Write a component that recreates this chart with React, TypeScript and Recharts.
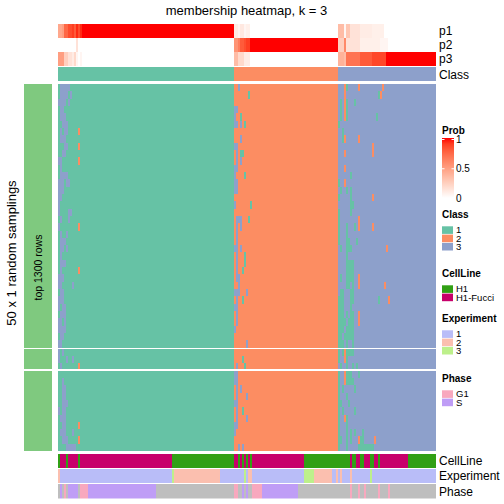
import React from 'react';
import { BarChart, Bar, XAxis, YAxis, Cell } from 'recharts';

// ---- column annotations, left to right, as [value, number of columns] ----
const classRuns: [number, number][] = [[1, 88], [2, 52], [3, 49]];

const p1Runs: [number, number][] = [
  [0.45, 2], [0.5, 1], [0.75, 2], [0.85, 2], [0.9, 1], [0.8, 1], [0.95, 1], [0.85, 1], [0.95, 1], [1, 76],
  [0.1, 2], [0.05, 1], [0.12, 2], [0.05, 1], [0.08, 2], [0, 44],
  [0.35, 3], [0.05, 1], [0.3, 2], [0.15, 5], [0.1, 6], [0.08, 6], [0, 26],
];
const p2Runs: [number, number][] = [
  [0, 9], [0.15, 1], [0, 78],
  [0.55, 2], [0.65, 1], [0.8, 2], [0.85, 1], [0.9, 2], [1, 44],
  [0.25, 3], [0.6, 1], [0.15, 7], [0.08, 10], [0.05, 4], [0, 24],
];
const p3Runs: [number, number][] = [
  [0.5, 3], [0.25, 2], [0.15, 2], [0.1, 1], [0.2, 1], [0.05, 1], [0, 1], [0.05, 1], [0, 76],
  [0.35, 2], [0.2, 3], [0.1, 3], [0, 44],
  [0.4, 3], [0.35, 1], [0.7, 7], [0.8, 6], [0.87, 7], [1, 25],
];

const cellLineRuns: [string, number][] = [
  ['H1', 1], ['H1-Fucci', 3], ['H1', 1], ['H1-Fucci', 5], ['H1', 1], ['H1-Fucci', 46], ['H1', 31],
  ['H1-Fucci', 2], ['H1', 1], ['H1-Fucci', 1], ['H1', 1], ['H1-Fucci', 1], ['H1', 1], ['H1-Fucci', 1], ['H1', 1], ['H1-Fucci', 26],
  ['H1', 23], ['H1-Fucci', 1], ['H1', 2], ['H1-Fucci', 2], ['H1', 2], ['H1-Fucci', 3], ['H1', 2], ['H1-Fucci', 2], ['H1', 1],
  ['H1-Fucci', 14], ['H1', 14],
];
const experimentRuns: [string, number][] = [
  ['2', 1], ['1', 56], ['3', 1], ['2', 23], ['1', 12], ['3', 1], ['1', 1], ['2', 2], ['1', 26], ['3', 5], ['2', 9],
  ['1', 2], ['2', 1], ['1', 1], ['2', 1], ['1', 4], ['2', 1], ['1', 9], ['3', 1], ['1', 32],
];
const phaseRuns: [string, number][] = [
  ['NA', 1], ['S', 1], ['NA', 1], ['G1', 1], ['NA', 1], ['S', 5], ['NA', 1], ['G1', 4], ['S', 34], ['NA', 39],
  ['G1', 2], ['NA', 2], ['S', 1], ['NA', 1], ['S', 1], ['NA', 2], ['G1', 5], ['S', 18], ['NA', 26],
  ['G1', 1], ['NA', 3], ['G1', 1], ['NA', 2], ['G1', 1], ['NA', 6], ['G1', 1], ['NA', 4], ['G1', 1], ['NA', 23],
];

// ---- 50 samplings (rows, top to bottom). Only the uncertain left edge of each class
// block is listed; '.' (or nothing) means the sampling agrees with the column class ----
const block1Start = 0;   // columns 0..11
const block2Start = 88;  // columns 88..97
const block3Start = 140; // columns 140..167
const block1 = [
  '.33333', '.3333.3', '3333.3', '.33', '.333', '..333', '.3.33.....2', '.333', '...33.....2', '..33',
  '33........2', '.3', '.3333', '333.33', '333', '33', '3', '3....33', '.3...3', '3.........2',
  '.3..3', '.333', '.33.3', '.3', '.333', '.3........2', '333', '33.....3', '.33', '333',
  '3.33', '.333', '33.3', '3333', '.33', '33',
  '3.3', '3...3..3', '.3........2',
  '', '..3', '..33', '..33', '..333', '3.33', '.333', '..33......2', '.333...3', '..333.....2', '....33333',
];
const block2 = [
  '..3', '.......1', '', '33', '3..1', '33.3.1', '', '...3', '33', '.3.11',
  '.3.3', '33', '3....1', '33', '33', '', '3.......1', '', '.333...1', '.3.3',
  '.3', '.3', '33.3', '.3...1', '.3...1', '.3..1', '.33', '..3', '333...3', '.3..1',
  '33', '.3', '.3', '3', '', '......3',
  '', '....1', '.3...1',
  '33', '33', '.3.3', '.3....3', '33', '.3..1', '.3....3', '33', '3', '', '..3.3',
];
const block3 = [
  '...21.....2...........2', '...2................12', '.1.21...1', '.1.21', '.1.21..............1',
  '1', '..1', '..12......2', '.................2', '...2.............2',
  '', '...2', '......1', '1..2', '.1..1.1',
  '1.....1..........2', '......11', '1.....1', '1.........2', '1...1...1.2......2',
  '1...1', '1...11...1', '.1..111.................2', '....1', '....1111',
  '....1111', '.1..1111..2', '....11.1..2............2', '.11...11', '111...11............1....2',
  '111...1', '111.1.11..2', '1111.111..2', '111.1111', '11.11111', '111.1..1',
  '1.121111', '1..21', '.1..1..1.1',
  '1..2111...1', '1..21111', '1.1.....1', '1...1', '11...1', '1.1.....1', '1..21', '1...1',
  '1...1.1.1...1', '11..1.1...211.....2', '1...1.....11111111',
];
const sliceRows = [36, 3, 11];

const CLASS_COLORS: Record<string, string> = { '1': '#66C2A5', '2': '#FC8D62', '3': '#8DA0CB' };
const CELLLINE_COLORS: Record<string, string> = { 'H1': '#31A015', 'H1-Fucci': '#C7006B' };
const EXPERIMENT_COLORS: Record<string, string> = { '1': '#B9BDF8', '2': '#FBBFAF', '3': '#BDF08B' };
const PHASE_COLORS: Record<string, string> = { 'G1': '#F8A8BE', 'S': '#BF9DF6', 'NA': '#BEBEBE' };
const ROW_ANNO = '#7FC97F';
const FONT = '"Liberation Sans", Arial, Helvetica, sans-serif';

const expand = <T,>(runs: [T, number][]): T[] => runs.flatMap(([v, n]) => Array(n).fill(v));

const colClass = expand(classRuns);
const p1 = expand(p1Runs);
const p2 = expand(p2Runs);
const p3 = expand(p3Runs);
const cellLine = expand(cellLineRuns);
const experiment = expand(experimentRuns);
const phase = expand(phaseRuns);
const cols = colClass.map((_, i) => i);

// white -> red in LAB space (like colorRamp2)
function probColor(p: number) {
  const L = 100 - 46.76 * p, a = 80.09 * p, b = 67.2 * p;
  let y = (L + 16) / 116;
  let x = a / 500 + y;
  let z = y - b / 200;
  const f = (t: number) => (t ** 3 > 0.008856 ? t ** 3 : (t - 16 / 116) / 7.787);
  x = 0.95047 * f(x); y = f(y); z = 1.08883 * f(z);
  const lin = [
    x * 3.2406 + y * -1.5372 + z * -0.4986,
    x * -0.9689 + y * 1.8758 + z * 0.0415,
    x * 0.0557 + y * -0.204 + z * 1.057,
  ];
  const g = lin.map((c) => {
    const v = c > 0.0031308 ? 1.055 * c ** (1 / 2.4) - 0.055 : 12.92 * c;
    return Math.round(Math.min(1, Math.max(0, v)) * 255);
  });
  return `rgb(${g[0]},${g[1]},${g[2]})`;
}

function memberClass(r: number, c: number) {
  let ch: string | undefined;
  if (c >= block1Start && c < block1Start + 12) ch = block1[r][c - block1Start];
  else if (c >= block2Start && c < block2Start + 10) ch = block2[r][c - block2Start];
  else if (c >= block3Start && c < block3Start + 28) ch = block3[r][c - block3Start];
  return ch && ch !== '.' ? ch : String(colClass[c]);
}

// ---- layout (top to bottom), heights in pixels ----
type Track = { key: string; h: number; color?: (c: number) => string; label?: string };
const W = 504, H = 504, TOP = 24, LEFT = 58, RIGHT = 436;
const ROW_H = [7.325, 6.767, 7.291];

const rowTracks = (slice: number, first: number): Track[] =>
  Array.from({ length: sliceRows[slice] }, (_, k) => ({
    key: `r${first + k}`,
    h: ROW_H[slice],
    color: (c: number) => CLASS_COLORS[memberClass(first + k, c)],
  }));

const topDown: Track[] = [
  { key: 'p1', h: 13.5, color: (c) => probColor(p1[c]), label: 'p1' },
  { key: 'g1', h: 0.6 },
  { key: 'p2', h: 13.6, color: (c) => probColor(p2[c]), label: 'p2' },
  { key: 'g2', h: 0.6 },
  { key: 'p3', h: 13.7, color: (c) => probColor(p3[c]), label: 'p3' },
  { key: 'g3', h: 1.3 },
  { key: 'cls', h: 14, color: (c) => CLASS_COLORS[String(colClass[c])], label: 'Class' },
  { key: 'g4', h: 2.7 },
  ...rowTracks(0, 0),
  { key: 'g5', h: 1.4 },
  ...rowTracks(1, sliceRows[0]),
  { key: 'g6', h: 1.4 },
  ...rowTracks(2, sliceRows[0] + sliceRows[1]),
  { key: 'g7', h: 2.7 },
  { key: 'cellLine', h: 14.3, color: (c) => CELLLINE_COLORS[cellLine[c]], label: 'CellLine' },
  { key: 'g8', h: 1.0 },
  { key: 'experiment', h: 14.3, color: (c) => EXPERIMENT_COLORS[experiment[c]], label: 'Experiment' },
  { key: 'g9', h: 1.1 },
  { key: 'phase', h: 14.1, color: (c) => PHASE_COLORS[phase[c]], label: 'Phase' },
];
const TOTAL = topDown.reduce((s, t) => s + t.h, 0);
const stack = [...topDown].reverse();

const trackTop: Record<string, number> = {};
topDown.reduce((y, t) => { trackTop[t.key] = y; return y + t.h; }, TOP);

const table = cols.map((c) => {
  const d: Record<string, number> = { col: c };
  topDown.forEach((t) => { d[t.key] = t.h; });
  return d;
});

// row annotation (left green bar), one category
const sliceH = sliceRows.map((n, i) => n * ROW_H[i]);
const aboveBody = trackTop['r0'] - TOP;
const belowBody = TOTAL - (trackTop['g7'] - TOP);
const rowAnnoStack: Track[] = [
  { key: 'below', h: belowBody },
  { key: 's3', h: sliceH[2], color: () => ROW_ANNO },
  { key: 'x2', h: 1.4 },
  { key: 's2', h: sliceH[1], color: () => ROW_ANNO },
  { key: 'x1', h: 1.4 },
  { key: 's1', h: sliceH[0], color: () => ROW_ANNO },
  { key: 'above', h: aboveBody },
];
const rowAnnoTable = [Object.fromEntries([['k', 0], ...rowAnnoStack.map((t) => [t.key, t.h])])];

const legends = [
  { title: 'Class', y: 214.3, items: ['1', '2', '3'].map((k) => [k, CLASS_COLORS[k]]) },
  { title: 'CellLine', y: 273.3, items: ['H1', 'H1-Fucci'].map((k) => [k, CELLLINE_COLORS[k]]) },
  { title: 'Experiment', y: 318.3, items: ['1', '2', '3'].map((k) => [k, EXPERIMENT_COLORS[k]]) },
  { title: 'Phase', y: 378.3, items: ['G1', 'S'].map((k) => [k, PHASE_COLORS[k]]) },
];
const probTicks = [1, 0.5, 0];

export default function App() {
  const gradTop = 139.5, gradBottom = 198;
  const probY = (v: number) => gradBottom - (gradBottom - gradTop) * v;
  return (
    <div style={{ position: 'absolute', left: 0, top: 0, width: W, height: H, background: '#fff', overflow: 'hidden' }}>
      <div style={{ position: 'absolute', left: 0, top: 0, shapeRendering: 'crispEdges' }}>
        <BarChart
          width={W}
          height={H}
          data={table}
          margin={{ top: TOP, bottom: H - TOP - TOTAL, left: LEFT, right: W - RIGHT }}
          barCategoryGap={0}
          barGap={0}
        >
          <XAxis dataKey="col" hide />
          <YAxis hide domain={[0, TOTAL]} allowDataOverflow />
          {stack.map((t) => (
            <Bar key={t.key} dataKey={t.key} stackId="m" isAnimationActive={false} fill="none">
              {t.color && cols.map((c) => <Cell key={c} fill={t.color!(c)} />)}
            </Bar>
          ))}
        </BarChart>
      </div>
      <div style={{ position: 'absolute', left: 0, top: 0, shapeRendering: 'crispEdges' }}>
        <BarChart
          width={W}
          height={H}
          data={rowAnnoTable}
          margin={{ top: TOP, bottom: H - TOP - TOTAL, left: 24, right: W - 52 }}
          barCategoryGap={0}
        >
          <XAxis dataKey="k" hide />
          <YAxis hide domain={[0, TOTAL]} allowDataOverflow />
          {rowAnnoStack.map((t) => (
            <Bar key={t.key} dataKey={t.key} stackId="a" isAnimationActive={false} fill={t.color ? ROW_ANNO : 'none'} />
          ))}
        </BarChart>
      </div>
      <svg width={W} height={H} style={{ position: 'absolute', left: 0, top: 0 }} fontFamily={FONT}>
        <text x={246.5} y={15} fontSize={13} textAnchor="middle">membership heatmap, k = 3</text>
        {topDown.filter((t) => t.label).map((t) => (
          <text key={t.key} x={439} y={trackTop[t.key] + t.h / 2 + 4.3} fontSize={12}>{t.label}</text>
        ))}
        <text transform="translate(15.5,253) rotate(-90)" fontSize={13} textAnchor="middle">50 x 1 random samplings</text>
        <text transform={`translate(42,${(trackTop['r0'] + trackTop['g7']) / 2}) rotate(-90)`} fontSize={10.5} textAnchor="middle">top 1300 rows</text>

        <defs>
          <linearGradient id="probGrad" x1="0" y1="0" x2="0" y2="1">
            {Array.from({ length: 11 }, (_, i) => (
              <stop key={i} offset={i / 10} stopColor={probColor(1 - i / 10)} />
            ))}
          </linearGradient>
        </defs>
        <text x={442} y={133.5} fontSize={10} fontWeight="bold">Prob</text>
        <rect x={442} y={gradTop - 1.5} width={12} height={gradBottom - gradTop + 1.5} fill="url(#probGrad)" />
        {probTicks.map((v) => (
          <g key={v}>
            <line x1={442} x2={444.5} y1={probY(v)} y2={probY(v)} stroke="#fff" strokeWidth={1} />
            <line x1={451.5} x2={454} y1={probY(v)} y2={probY(v)} stroke="#fff" strokeWidth={1} />
            <text x={456} y={probY(v) + 3.5} fontSize={10}>{v}</text>
          </g>
        ))}
        {legends.map((lg) => (
          <g key={lg.title}>
            <text x={442} y={lg.y + 3.5} fontSize={10} fontWeight="bold">{lg.title}</text>
            {lg.items.map(([k, col], i) => (
              <g key={k}>
                <rect x={442} y={lg.y + 12 + i * 8.3} width={11} height={7.6} fill={col} />
                <text x={456} y={lg.y + 12 + i * 8.3 + 7} fontSize={9.5}>{k}</text>
              </g>
            ))}
          </g>
        ))}
      </svg>
    </div>
  );
}
